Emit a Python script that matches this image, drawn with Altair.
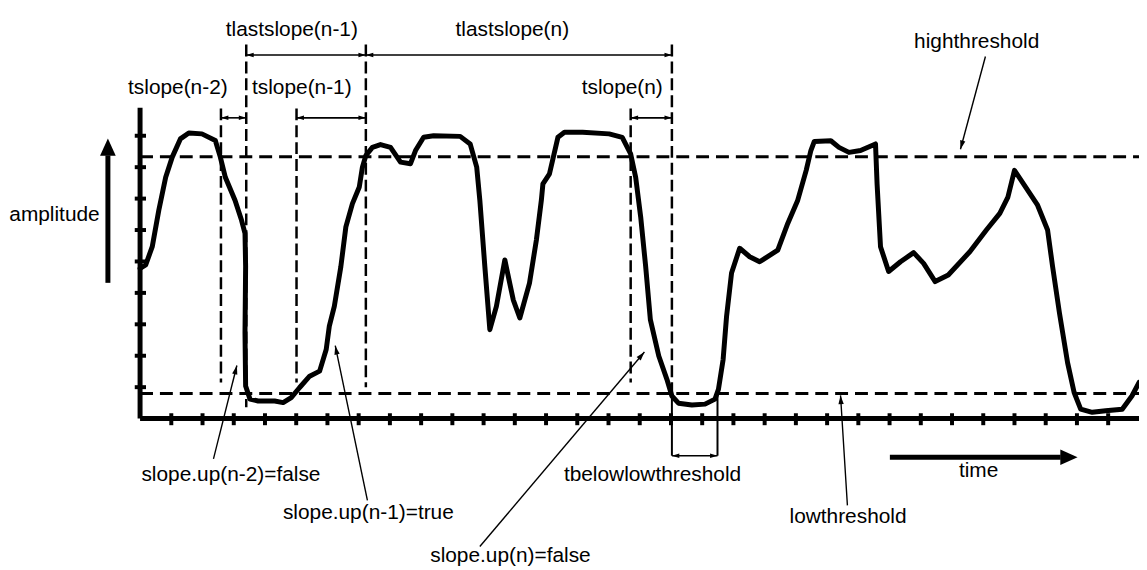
import altair as alt
import pandas as pd
import numpy as np

# ---- waveform: time in x-tick units, amplitude in y-tick units ----
curve_time = [0, 0.18, 0.39, 0.60, 0.82, 1.03, 1.29, 1.56, 1.98, 2.41, 2.57, 2.73, 3.04, 3.25, 3.36, 3.38, 3.36, 3.38, 3.52, 3.78,
              4.31, 4.58, 4.84, 5.11, 5.43, 5.75, 5.96, 6.06, 6.22, 6.43, 6.59, 6.80, 7.02, 7.12, 7.23, 7.44, 7.70, 8.02, 8.34, 8.66,
              8.82, 9.08, 9.40, 10.25, 10.57, 10.78, 10.88, 11.04, 11.20, 11.41, 11.68, 11.95, 12.16, 12.47, 12.69, 12.85, 12.90, 13.11, 13.38, 13.59,
              14.17, 15.02, 15.44, 15.71, 15.87, 16.03, 16.19, 16.34, 16.61, 16.87, 17.03, 17.24, 17.67, 18.09, 18.41, 18.52, 18.67, 18.78, 18.94, 19.20,
              19.52, 19.84, 20.42, 20.74, 21.06, 21.33, 21.48, 21.59, 22.12, 22.38, 22.70, 23.07, 23.55, 23.60, 23.71, 23.97, 24.35, 24.77, 25.09, 25.46,
              25.88, 26.57, 27.10, 27.53, 27.79, 28.00, 28.32, 28.74, 29.06, 29.22, 29.44, 29.70, 29.91, 30.12, 30.49, 30.92, 31.45, 31.76, 31.99]
curve_amp = [4.78, 4.89, 5.47, 6.63, 7.68, 8.32, 8.90, 9.09, 9.06, 8.85, 8.32, 7.68, 6.95, 6.31, 5.89, 4.84, 2.74, 1.04, 0.62, 0.56,
             0.56, 0.51, 0.67, 0.99, 1.35, 1.51, 2.20, 2.94, 3.57, 4.84, 6.10, 6.84, 7.37, 8.00, 8.37, 8.63, 8.72, 8.63, 8.16, 8.11,
             8.53, 8.95, 9.00, 8.98, 8.74, 8.00, 6.95, 4.84, 2.83, 3.57, 5.05, 3.78, 3.20, 4.31, 5.68, 6.95, 7.47, 7.79, 8.95, 9.11,
             9.11, 9.06, 8.95, 8.42, 7.68, 6.42, 4.84, 3.15, 1.99, 1.25, 0.72, 0.49, 0.43, 0.46, 0.62, 0.93, 1.88, 3.25, 4.63, 5.42,
             5.15, 4.99, 5.36, 6.21, 6.95, 7.90, 8.53, 8.82, 8.84, 8.63, 8.47, 8.53, 8.74, 7.47, 5.47, 4.68, 4.99, 5.28, 4.94, 4.36,
             4.57, 5.31, 6.00, 6.53, 7.05, 7.90, 7.42, 6.79, 6.00, 4.84, 3.36, 1.78, 0.83, 0.30, 0.20, 0.25, 0.30, 0.72, 1.15]

high_threshold = 8.33
low_threshold = 0.80
axis_len_t = 31.99
axis_len_amp = 9.89
x_ticks = list(range(1, 32))
y_ticks = list(range(1, 10))

# vertical dashed markers: time, top, bottom
marker_time = [2.59, 3.40, 5.01, 7.23, 15.71, 17.03]
marker_top = [9.87, 11.90, 9.87, 11.90, 9.87, 11.90]
marker_bottom = [1.15, 0.36, 1.15, 1.00, 1.15, 0.80]

# interval arrows: start, end, level, label, label x, label y
interval_start = [3.40, 7.23, 2.59, 5.01, 15.71, 17.03]
interval_end = [7.23, 17.03, 3.40, 7.23, 17.03, 18.49]
interval_level = [11.57, 11.57, 9.57, 9.57, 9.57, -1.18]
interval_label = ["tlastslope(n-1)", "tlastslope(n)", "tslope(n-2)", "tslope(n-1)", "tslope(n)", "tbelowlowthreshold"]
label_x = [4.86, 11.92, 1.21, 5.18, 15.44, 16.41]
label_y = [12.18, 12.18, 10.33, 10.33, 10.33, -1.97]

# bracket (solid) for tbelowlowthreshold
bracket_time = [17.03, 18.49]

# annotations with leader arrows
note_text = ["highthreshold", "slope.up(n-2)=false", "slope.up(n-1)=true", "slope.up(n)=false", "lowthreshold"]
note_x = [26.79, 2.91, 7.31, 11.86, 22.67]
note_y = [11.78, -1.97, -3.20, -4.57, -3.33]
leader_x0 = [27.07, 2.35, 7.28, 10.88, 22.65]
leader_y0 = [11.52, -1.28, -2.60, -4.07, -2.76]
leader_x1 = [26.27, 3.10, 6.25, 16.15, 22.43]
leader_y1 = [8.57, 1.69, 2.32, 2.12, 0.74]

# axis direction arrows
amp_arrow = {"t": -1.03, "from": 4.32, "to": 8.91, "label": "amplitude", "lx": -2.74, "ly": 6.28}
time_arrow = {"a": -1.23, "from": 24.01, "to": 30.02, "label": "time", "lx": 26.85, "ly": -1.86}

# ---- scales (x tick = 31.45 px, y tick = 31.65 px) ----
PX_X, PX_Y = 31.45, 31.65
W, H = 1139, 562
X0 = -4.229
Y1 = 13.002
xs = alt.Scale(domain=[X0, X0 + W / PX_X], nice=False, zero=False)
ys = alt.Scale(domain=[Y1 - H / PX_Y, Y1], nice=False, zero=False)
FONT = "Liberation Sans"
BLACK = "#000000"


def X(f="x"):
    return alt.X(f"{f}:Q", scale=xs, axis=None)


def Y(f="y"):
    return alt.Y(f"{f}:Q", scale=ys, axis=None)


def rules(df, width, dash=None):
    kw = dict(color=BLACK, strokeWidth=width, strokeCap="butt")
    if dash is not None:
        kw["strokeDash"] = dash
    return alt.Chart(df).mark_rule(**kw).encode(x=X(), x2="x2:Q", y=Y(), y2="y2:Q")


SMALL_HEAD = "M0,0L-0.6,2L0.6,2Z"
BIG_HEAD = "M0,0L-1,2.2L1,2.2Z"


def heads(df, shape, size):
    return alt.Chart(df).mark_point(shape=shape, filled=True, color=BLACK, opacity=1, size=size, strokeWidth=0).encode(
        x=X(), y=Y(), angle=alt.Angle("angle:Q", scale=None))


layers = []

# curve
curve_df = pd.DataFrame({"x": curve_time, "y": curve_amp, "i": range(len(curve_time))})
layers.append(alt.Chart(curve_df).mark_line(color=BLACK, strokeWidth=5, strokeJoin="round", strokeCap="round").encode(
    x=X(), y=Y(), order="i:Q"))

# thresholds
thr_df = pd.DataFrame({"x": [0, 0], "x2": [axis_len_t, axis_len_t], "y": [high_threshold, low_threshold],
                       "y2": [high_threshold, low_threshold]})
layers.append(rules(thr_df, 3, [13, 7]))

# markers
mk_df = pd.DataFrame({"x": marker_time, "x2": marker_time, "y": marker_top, "y2": marker_bottom})
layers.append(rules(mk_df, 2.5, [12, 5]))

# bracket
br_df = pd.DataFrame({"x": bracket_time, "x2": bracket_time, "y": [low_threshold] * 2, "y2": [interval_level[-1]] * 2})
layers.append(rules(br_df, 2))

# axes
ax_df = pd.DataFrame({"x": [0, 0], "x2": [0, axis_len_t], "y": [0, 0], "y2": [axis_len_amp, 0]})
layers.append(rules(ax_df, 5))
xt_df = pd.DataFrame({"x": x_ticks, "x2": x_ticks, "y": [0.17] * len(x_ticks), "y2": [-0.21] * len(x_ticks)})
layers.append(rules(xt_df, 4))
yt_df = pd.DataFrame({"x": [-0.17] * len(y_ticks), "x2": [0.19] * len(y_ticks), "y": y_ticks, "y2": y_ticks})
layers.append(rules(yt_df, 4))

# interval arrows
iv_df = pd.DataFrame({"x": interval_start, "x2": interval_end, "y": interval_level, "y2": interval_level})
layers.append(rules(iv_df, 1.6))
ih_df = pd.DataFrame({"x": interval_start + interval_end, "y": interval_level + interval_level,
                      "angle": [270] * len(interval_start) + [90] * len(interval_end)})
layers.append(heads(ih_df, SMALL_HEAD, 56))
lab_df = pd.DataFrame({"x": label_x, "y": label_y, "t": interval_label})
layers.append(alt.Chart(lab_df).mark_text(font=FONT, fontSize=21, color=BLACK, align="center", baseline="alphabetic").encode(
    x=X(), y=Y(), text="t:N"))

# leaders
ld_df = pd.DataFrame({"x": leader_x0, "x2": leader_x1, "y": leader_y0, "y2": leader_y1})
layers.append(rules(ld_df, 1.4))
dx = (np.array(leader_x1) - np.array(leader_x0)) * PX_X
dy = -(np.array(leader_y1) - np.array(leader_y0)) * PX_Y
ang = (np.degrees(np.arctan2(dx, -dy)) + 360) % 360
lh_df = pd.DataFrame({"x": leader_x1, "y": leader_y1, "angle": ang})
layers.append(heads(lh_df, SMALL_HEAD, 80))
nt_df = pd.DataFrame({"x": note_x, "y": note_y, "t": note_text})
layers.append(alt.Chart(nt_df).mark_text(font=FONT, fontSize=21, color=BLACK, align="center", baseline="alphabetic").encode(
    x=X(), y=Y(), text="t:N"))

# axis arrows
head_len_y = 17 / PX_Y
head_len_x = 17 / PX_X
aa_df = pd.DataFrame({"x": [amp_arrow["t"], time_arrow["from"]],
                      "x2": [amp_arrow["t"], time_arrow["to"] - head_len_x],
                      "y": [amp_arrow["from"], time_arrow["a"]],
                      "y2": [amp_arrow["to"] - head_len_y, time_arrow["a"]]})
layers.append(rules(aa_df, 5))
ah_df = pd.DataFrame({"x": [amp_arrow["t"], time_arrow["to"]], "y": [amp_arrow["to"], time_arrow["a"]], "angle": [0, 90]})
layers.append(heads(ah_df, BIG_HEAD, 250))
al_df = pd.DataFrame({"x": [amp_arrow["lx"], time_arrow["lx"]], "y": [amp_arrow["ly"], time_arrow["ly"]],
                      "t": [amp_arrow["label"], time_arrow["label"]]})
layers.append(alt.Chart(al_df).mark_text(font=FONT, fontSize=21, color=BLACK, align="center", baseline="alphabetic").encode(
    x=X(), y=Y(), text="t:N"))

chart = alt.layer(*layers).properties(
    width=W, height=H, padding=0, autosize="none", background="white"
).configure_view(stroke=None)

chart.save("out.html", embed_options={"renderer": "svg", "actions": False})
